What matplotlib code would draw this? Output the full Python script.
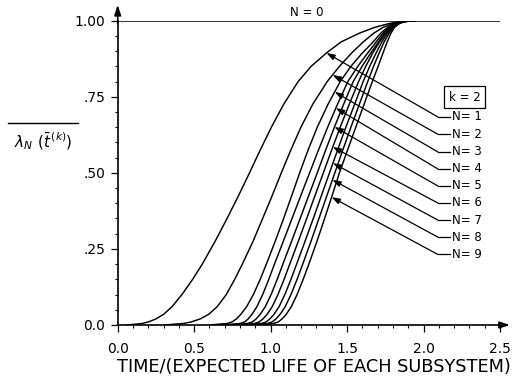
import numpy as np
import matplotlib
matplotlib.use('Agg')
import matplotlib.pyplot as plt
from matplotlib.lines import Line2D
from matplotlib.ticker import MultipleLocator

# probability levels at which the crossing times of each curve were read
levels = [0.0, 0.005, 0.01, 0.02, 0.035, 0.06, 0.1, 0.15, 0.2, 0.275, 0.35, 0.425, 0.5,
          0.575, 0.65, 0.725, 0.8, 0.85, 0.894, 0.93, 0.959, 0.978, 0.99, 0.997, 1.0]

# normalised time at which curve N reaches each level
n1_x = [0.06, 0.16, 0.20, 0.25, 0.30, 0.355, 0.42, 0.49, 0.553, 0.637, 0.715, 0.79, 0.862,
        0.932, 1.005, 1.085, 1.18, 1.265, 1.365, 1.46, 1.58, 1.68, 1.77, 1.84, 1.92]
n2_x = [0.30, 0.43, 0.48, 0.54, 0.595, 0.65, 0.71, 0.765, 0.815, 0.885, 0.948, 1.01, 1.07,
        1.132, 1.198, 1.275, 1.37, 1.45, 1.53, 1.605, 1.675, 1.735, 1.795, 1.855, 1.93]
n3_x = [0.60, 0.715, 0.748, 0.776, 0.805, 0.843, 0.887, 0.932, 0.972, 1.03, 1.085, 1.138, 1.19,
        1.245, 1.305, 1.375, 1.455, 1.525, 1.60, 1.67, 1.72, 1.765, 1.81, 1.855, 1.94]
n4_x = [0.68, 0.80, 0.83, 0.853, 0.878, 0.91, 0.948, 0.988, 1.025, 1.083, 1.14, 1.197, 1.255,
        1.313, 1.373, 1.437, 1.505, 1.57, 1.635, 1.69, 1.735, 1.775, 1.817, 1.86, 1.94]
n5_x = [0.73, 0.85, 0.88, 0.905, 0.932, 0.965, 1.003, 1.043, 1.08, 1.137, 1.193, 1.249, 1.305,
        1.36, 1.417, 1.477, 1.54, 1.598, 1.655, 1.705, 1.745, 1.783, 1.823, 1.864, 1.94]
n6_x = [0.775, 0.895, 0.925, 0.95, 0.977, 1.01, 1.048, 1.088, 1.125, 1.181, 1.236, 1.29, 1.345,
        1.399, 1.455, 1.514, 1.575, 1.622, 1.668, 1.712, 1.755, 1.79, 1.828, 1.867, 1.945]
n7_x = [0.82, 0.94, 0.97, 0.995, 1.022, 1.055, 1.093, 1.133, 1.17, 1.225, 1.279, 1.332, 1.385,
        1.438, 1.492, 1.549, 1.605, 1.648, 1.69, 1.727, 1.764, 1.797, 1.832, 1.87, 1.945]
n8_x = [0.86, 0.98, 1.01, 1.035, 1.062, 1.095, 1.133, 1.173, 1.21, 1.264, 1.316, 1.368, 1.42,
        1.472, 1.525, 1.58, 1.635, 1.673, 1.71, 1.742, 1.775, 1.803, 1.836, 1.872, 1.95]
n9_x = [0.90, 1.02, 1.05, 1.075, 1.102, 1.135, 1.173, 1.213, 1.25, 1.303, 1.353, 1.402, 1.45,
        1.503, 1.557, 1.611, 1.665, 1.703, 1.735, 1.762, 1.787, 1.81, 1.84, 1.875, 1.95]

n0_x = [0.0, 2.5]
n0_y = [1.0, 1.0]

curve_labels = ["N= 1", "N= 2", "N= 3", "N= 4", "N= 5", "N= 6", "N= 7", "N= 8", "N= 9"]
arrow_y = [0.894, 0.822, 0.766, 0.713, 0.651, 0.585, 0.532, 0.477, 0.42]
label_y = [0.684, 0.627, 0.569, 0.513, 0.457, 0.401, 0.345, 0.289, 0.232]

xticks = [0.0, 0.5, 1.0, 1.5, 2.0, 2.5]
xtick_labels = ["0.0", "0.5", "1.0", "1.5", "2.0", "2.5"]
yticks = [0.0, 0.25, 0.50, 0.75, 1.00]
ytick_labels = ["0.0", ".25", ".50", ".75", "1.00"]

W, H = 528, 378
fig = plt.figure(figsize=(W / 100, H / 100), dpi=100)
ax = fig.add_axes([117.7 / W, 53 / H, 382.3 / W, 304.3 / H])

curves = [n1_x, n2_x, n3_x, n4_x, n5_x, n6_x, n7_x, n8_x, n9_x]
for xs in curves:
    ax.plot(xs, levels, color='k', lw=1.05, solid_joinstyle='round')
ax.plot(n0_x, n0_y, color='k', lw=1.1)

ax.set_xlim(0, 2.5)
ax.set_ylim(0, 1.0)
for s in ['top', 'right']:
    ax.spines[s].set_visible(False)
for s in ['left', 'bottom']:
    ax.spines[s].set_linewidth(1.2)

ax.set_xticks(xticks)
ax.set_xticklabels(xtick_labels)
ax.set_yticks(yticks)
ax.set_yticklabels(ytick_labels)
ax.xaxis.set_minor_locator(MultipleLocator(0.1))
ax.yaxis.set_minor_locator(MultipleLocator(0.05))
ax.tick_params(axis='both', which='major', direction='out', length=5, width=0.9, labelsize=10)
ax.tick_params(axis='both', which='minor', direction='out', length=2.5, width=0.8)
ax.tick_params(axis='x', which='major', pad=7)
ax.tick_params(axis='y', which='major', pad=4)

# axis arrows
ax.annotate('', xy=(2.565, 0), xytext=(2.49, 0), annotation_clip=False,
            arrowprops=dict(arrowstyle='-|>,head_length=0.6,head_width=0.2', color='k', lw=1.2,
                            shrinkA=0, shrinkB=0))
ax.annotate('', xy=(0, 1.052), xytext=(0, 0.99), annotation_clip=False,
            arrowprops=dict(arrowstyle='-|>,head_length=0.6,head_width=0.2', color='k', lw=1.2,
                            shrinkA=0, shrinkB=0))

# curve labels with leaders
for xs, lab, ay, ly in zip(curves, curve_labels, arrow_y, label_y):
    tx = np.interp(ay, levels, xs)
    ax.annotate('', xy=(tx, ay), xytext=(2.093, ly), annotation_clip=False,
                arrowprops=dict(arrowstyle='-|>,head_length=0.5,head_width=0.17', color='k', lw=0.9,
                                shrinkA=0, shrinkB=0))
    ax.plot([2.093, 2.172], [ly, ly], color='k', lw=0.9, clip_on=False)
    ax.text(2.185, ly, lab, ha='left', va='center', fontsize=8.5)

ax.text(1.235, 1.006, "N = 0", ha='center', va='bottom', fontsize=8.5)
ax.text(2.27, 0.749, "k = 2", ha='center', va='center', fontsize=8.5,
        bbox=dict(boxstyle='square,pad=0.4', fc='white', ec='k', lw=0.9))

fig.text(314 / W, 1 - 367 / H, "TIME/(EXPECTED LIFE OF EACH SUBSYSTEM)",
         ha='center', va='center', fontsize=12.8)
fig.text(43 / W, 1 - 141 / H, r'$\lambda_N\ (\bar{t}^{\,(k)})$', ha='center', va='center', fontsize=11)
fig.add_artist(Line2D([8 / W, 78 / W], [1 - 123 / H, 1 - 123 / H], color='k', lw=1.0))

fig.savefig('out.png', dpi=100)
